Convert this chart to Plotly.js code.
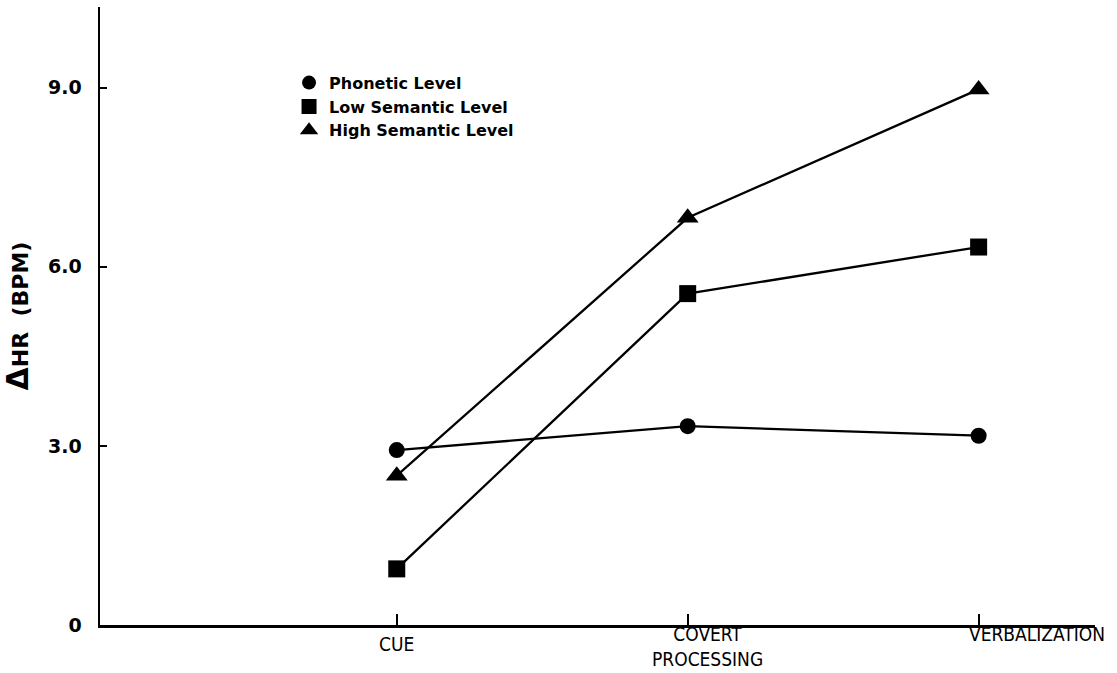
<!DOCTYPE html>
<html>
<head>
<meta charset="utf-8">
<script src="https://cdn.plot.ly/plotly-3.0.1.min.js"></script>
<style>html,body{margin:0;padding:0;background:#fff;}#chart{width:1117px;height:673px;}</style>
</head>
<body>
<div id="chart"></div>
<script>
const categories = ['CUE', 'COVERT<br>PROCESSING', 'VERBALIZATION'];
const catPos = [1, 2, 3];
const phonetic = [2.93, 3.33, 3.17];
const lowSemantic = [0.94, 5.55, 6.33];
const highSemantic = [2.50, 6.82, 8.97];
const seriesNames = ['Phonetic Level', 'Low Semantic Level', 'High Semantic Level'];
const yTickVals = [0, 3, 6, 9];
const yTickText = ['0', '3.0', '6.0', '9.0'];

const symbols = ['circle', 'square', 'triangle-up'];
const sizes = [16, 17, 19];
const series = [phonetic, lowSemantic, highSemantic];

const traces = [];
series.forEach((vals, i) => {
  traces.push({
    x: catPos, y: vals, type: 'scatter', mode: 'lines+markers',
    line: {color: '#000', width: 2.3},
    marker: {symbol: symbols[i], size: sizes[i], color: '#000'},
    showlegend: false, hoverinfo: 'skip'
  });
});
series.forEach((vals, i) => {
  traces.push({
    x: [null], y: [null], type: 'scatter', mode: 'markers',
    name: seriesNames[i],
    marker: {symbol: symbols[i], size: sizes[i] - 2, color: '#000'},
    showlegend: true
  });
});

const xLabelShift = [0, 20, 58];
const xLabelYShift = [-6, 4, 4];
const annotations = categories.map((c, i) => ({
  x: catPos[i], y: 0, xref: 'x', yref: 'paper',
  text: c, showarrow: false, xanchor: 'center', yanchor: 'top',
  xshift: xLabelShift[i], yshift: xLabelYShift[i],
  font: {family: 'DejaVu Sans Condensed, Liberation Sans Narrow, sans-serif', size: 19, color: '#000'}
}));

const layout = {
  width: 1117, height: 673,
  margin: {l: 100, r: 22, t: 7, b: 48},
  paper_bgcolor: '#fff', plot_bgcolor: '#fff',
  showlegend: true,
  legend: {
    x: 0.19, y: 0.905, xanchor: 'left', yanchor: 'top',
    bgcolor: 'rgba(0,0,0,0)', tracegroupgap: 0, itemwidth: 30,
    font: {family: 'DejaVu Sans, sans-serif', size: 16, color: '#000', weight: 'bold'}
  },
  xaxis: {
    range: [-0.02, 3.40], showgrid: false, zeroline: false,
    showline: true, linecolor: '#000', linewidth: 2.5,
    tickmode: 'array', tickvals: catPos, ticktext: categories.map(() => ''),
    ticks: 'inside', ticklen: 11, tickwidth: 2, tickcolor: '#000'
  },
  yaxis: {
    range: [0, 10.35], showgrid: false, zeroline: false,
    showline: true, linecolor: '#000', linewidth: 2.5,
    tickmode: 'array', tickvals: yTickVals, ticktext: yTickText,
    ticks: 'inside', ticklen: 7, tickwidth: 2, tickcolor: '#000',
    ticklabelstandoff: 12,
    tickfont: {family: 'DejaVu Sans, sans-serif', size: 19, color: '#000', weight: 'bold'},
    title: {text: '<span style="font-size:30px">Δ</span>HR  (BPM)', standoff: 14,
      font: {family: 'DejaVu Sans, sans-serif', size: 22, color: '#000', weight: 'bold'}}
  },
  annotations: annotations
};

Plotly.newPlot('chart', traces, layout, {staticPlot: true, displayModeBar: false});
</script>
</body>
</html>
